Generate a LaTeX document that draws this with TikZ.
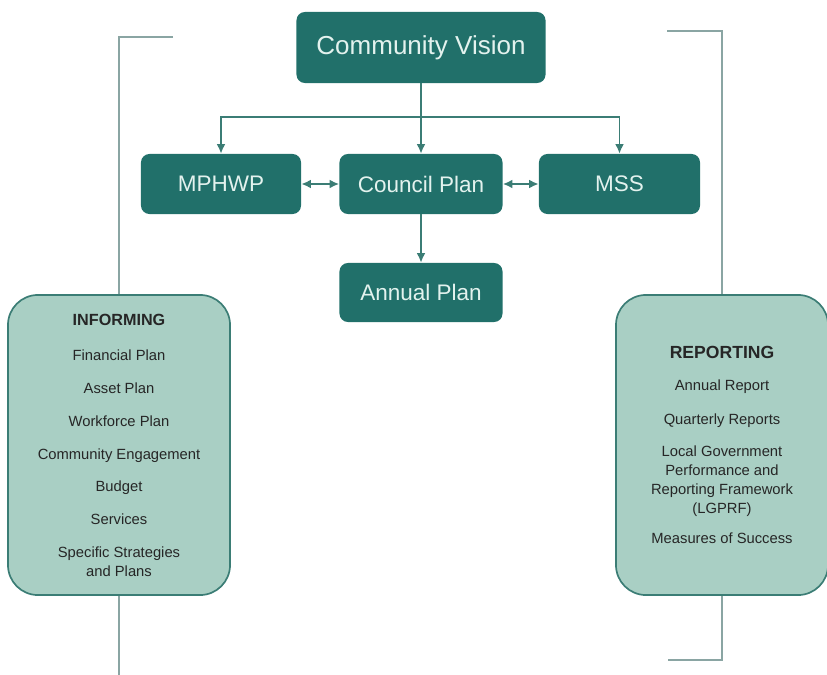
\documentclass[tikz,border=0pt]{standalone}
\usepackage{fontspec}
\setmainfont{Liberation Sans}
\usepackage{tikz}
\usetikzlibrary{positioning, arrows.meta}
\definecolor{tealdark}{HTML}{21706A}
\definecolor{teallight}{HTML}{A9CFC4}
\definecolor{tealline}{HTML}{3B7D75}
\definecolor{tealtext}{HTML}{E3F2EE}
\definecolor{bracketgray}{HTML}{8AA5A3}
\tikzstyle{plan} = [rectangle, rounded corners=6pt, fill=tealdark,
    text=tealtext, inner sep=0pt, font=\fontsize{16}{18}\selectfont]
\tikzstyle{panel} = [rectangle, rounded corners=0.75cm, fill=teallight,
    draw=tealline, line width=1.2pt, inner sep=0pt, align=center,
    text=black!85, font=\fontsize{10.5}{13}\selectfont]
\tikzstyle{link} = [tealline, line width=1.2pt, -{Latex[length=2.4mm,width=2.2mm]}]
\tikzstyle{twoway} = [tealline, line width=1.2pt,
    {Latex[length=2.4mm,width=2.2mm]}-{Latex[length=2.4mm,width=2.2mm]}]
\tikzstyle{bracket} = [bracketgray, line width=1.2pt]

\begin{document}
\begin{tikzpicture}[x=0.025cm, y=-0.025cm]
        \useasboundingbox (0,0) rectangle (827,675);

        \node[
            plan,
            minimum width=6.225cm, minimum height=1.775cm,
            font=\fontsize{18.5}{20}\selectfont
        ](vision) at (421,47.5){Community Vision};

        \node[
            plan,
            minimum width=4cm, minimum height=1.5cm
        ](mphwp) at (221,184){MPHWP};

        \node[
            plan,
            minimum width=4.075cm, minimum height=1.5cm
        ](council) at (421,184){Council Plan};

        \node[
            plan,
            minimum width=4.025cm, minimum height=1.5cm
        ](mss) at (619.5,184){MSS};

        \node[
            plan,
            minimum width=4.075cm, minimum height=1.475cm
        ](annual) at (421,292.5){Annual Plan};

        % side panels
        \node[
            panel,
            minimum width=5.55cm, minimum height=7.5cm
        ](informing) at (119,445){%
            {\fontsize{11.5}{13}\selectfont\bfseries INFORMING}\\[12pt]
            Financial Plan\\[10.4pt]
            Asset Plan\\[10.4pt]
            Workforce Plan\\[10.4pt]
            Community Engagement\\[10.4pt]
            Budget\\[10.4pt]
            Services\\[10.4pt]
            Specific Strategies\\and Plans};

        \node[
            panel,
            minimum width=5.3cm, minimum height=7.5cm
        ](reporting) at (722,445){%
            {\fontsize{12.5}{14}\selectfont\bfseries REPORTING}\\[10pt]
            Annual Report\\[11pt]
            Quarterly Reports\\[10pt]
            Local Government\\[0.5pt]
            Performance and\\[0.5pt]
            Reporting Framework\\[0.5pt]
            (LGPRF)\\[8.5pt]
            Measures of Success};

        \coordinate (split) at (421,117);
        \coordinate (ltop) at (173,37);
        \coordinate (lbot) at (119,675);
        \coordinate (rtop) at (667,31);
        \coordinate (rbot) at (668,660);

        \draw[tealline, line width=1.2pt] (vision.south) -- (split);
        \draw[link] (split) -- (council.north);
        \draw[link] (split) -| (mphwp.north);
        \draw[link] (split) -| (mss.north);
        \draw[twoway] (mphwp) -- (council);
        \draw[twoway] (council) -- (mss);
        \draw[link] (council) -- (annual);

        \draw[bracket] (ltop) -| (informing.north);
        \draw[bracket] (informing.south) -- (lbot);
        \draw[bracket] (rtop) -| (reporting.north);
        \draw[bracket] (reporting.south) |- (rbot);
    \end{tikzpicture}
\end{document}
